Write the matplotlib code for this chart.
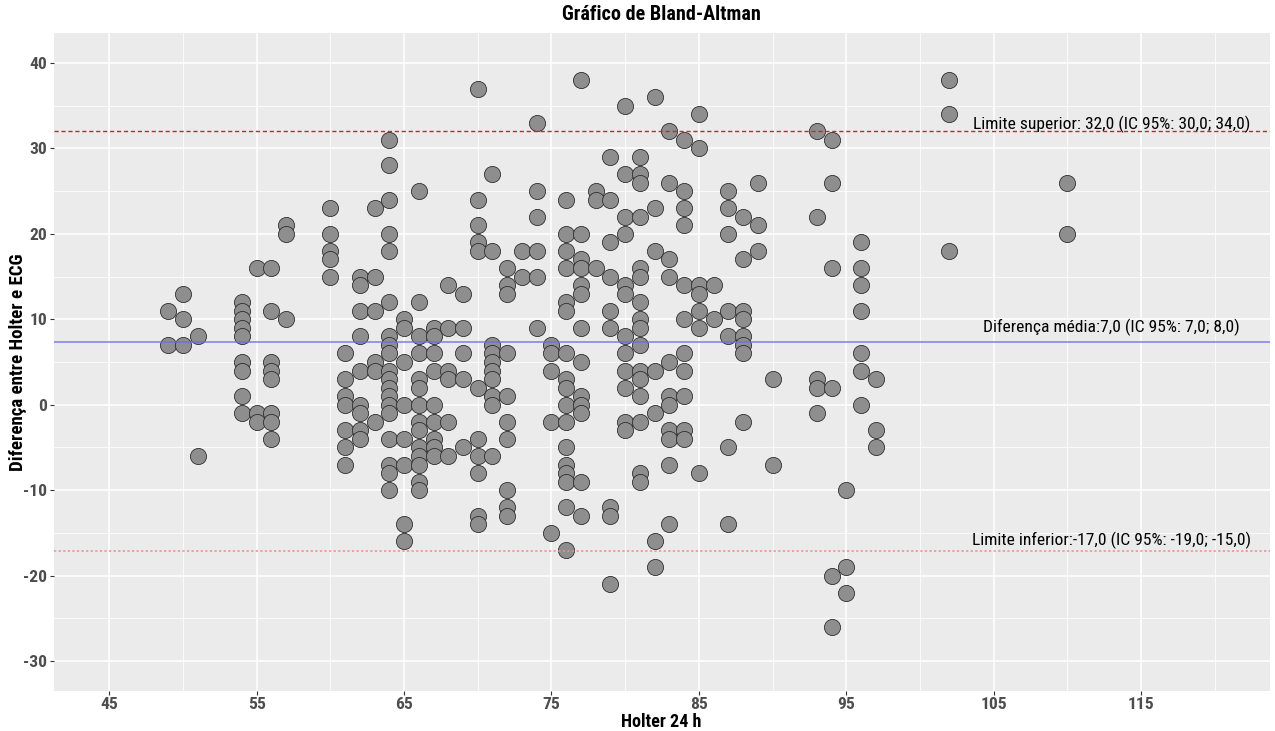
import matplotlib
matplotlib.use("Agg")
import matplotlib.pyplot as plt
from matplotlib import font_manager as fm
from matplotlib.ticker import FixedLocator

# ---------------- data ----------------
holter_24h = (
    [49] * 2 + [50] * 3 + [51] * 2 + [54] * 9 + [55] * 3 + [56] * 8 + [57] * 3 +
    [60] * 5 + [61] * 7 + [62] * 9 + [63] * 6 + [64] * 19 + [65] * 8 + [66] * 14 +
    [67] * 9 + [68] * 6 + [69] * 5 + [70] * 11 + [71] * 10 + [72] * 10 + [73] * 2 +
    [74] * 6 + [75] * 5 + [76] * 17 + [77] * 13 + [78] * 3 + [79] * 9 + [80] * 12 +
    [81] * 16 + [82] * 7 + [83] * 11 + [84] * 11 + [85] * 7 + [86] * 2 + [87] * 7 +
    [88] * 8 + [89] * 3 + [90] * 2 + [93] * 5 + [94] * 6 + [95] * 3 + [96] * 7 +
    [97] * 3 + [102] * 3 + [110] * 2
)
diferenca = (
    [11, 7] + [13, 10, 7] + [8, -6] + [12, 11, 10, 9, 8, 5, 4, 1, -1] + [16, -1, -2] +
    [16, 11, 5, 4, 3, -1, -2, -4] + [21, 20, 10] +
    [23, 20, 18, 17, 15] + [6, 3, 1, 0, -3, -5, -7] + [15, 14, 11, 8, 4, 0, -1, -3, -4] +
    [23, 15, 11, 5, 4, -2] +
    [31, 28, 24, 20, 18, 12, 8, 7, 6, 4, 3, 2, 1, 0, -1, -4, -7, -8, -10] +
    [10, 9, 5, 0, -4, -7, -14, -16] +
    [25, 12, 8, 6, 3, 2, 0, -2, -3, -5, -6, -7, -9, -10] +
    [9, 8, 6, 4, 0, -2, -4, -5, -6] + [14, 9, 4, 3, -2, -6] + [13, 9, 6, 3, -5] +
    [37, 24, 21, 19, 18, 2, -4, -6, -8, -13, -14] +
    [27, 18, 7, 6, 5, 4, 3, 1, 0, -6] +
    [16, 14, 13, 6, 1, -2, -4, -10, -12, -13] + [18, 15] +
    [33, 25, 22, 18, 15, 9] + [7, 6, 4, -2, -15] +
    [24, 20, 18, 16, 12, 11, 6, 3, 2, 0, -2, -5, -7, -8, -9, -12, -17] +
    [38, 20, 17, 16, 14, 13, 9, 5, 1, 0, -1, -9, -13] + [25, 24, 16] +
    [29, 24, 19, 15, 11, 9, -12, -13, -21] +
    [35, 27, 22, 20, 14, 13, 8, 6, 4, 2, -2, -3] +
    [29, 27, 26, 22, 16, 15, 12, 10, 9, 7, 4, 3, 1, -2, -8, -9] +
    [36, 23, 18, 4, -1, -16, -19] +
    [32, 26, 17, 15, 5, 1, 0, -3, -4, -7, -14] +
    [31, 25, 23, 21, 14, 10, 6, 4, 1, -3, -4] +
    [34, 30, 14, 13, 11, 9, -8] + [14, 10] +
    [25, 23, 20, 11, 8, -5, -14] + [22, 17, 11, 10, 8, 7, 6, -2] + [26, 21, 18] +
    [3, -7] + [32, 22, 3, 2, -1] + [31, 26, 16, 2, -20, -26] + [-10, -19, -22] +
    [19, 16, 14, 11, 6, 4, 0] + [3, -3, -5] + [38, 34, 18] + [26, 20]
)

media = 7.35
limite_superior = 32.0
limite_inferior = -17.1

rotulo_superior = "Limite superior: 32,0 (IC 95%: 30,0; 34,0)"
rotulo_media = "Diferença média:7,0 (IC 95%: 7,0; 8,0)"
rotulo_inferior = "Limite inferior:-17,0 (IC 95%: -19,0; -15,0)"

titulo = "Gráfico de Bland-Altman"
rotulo_x = "Holter 24 h"
rotulo_y = "Diferença entre Holter e ECG"

x_ticks = [45, 55, 65, 75, 85, 95, 105, 115]
y_ticks = [-30, -20, -10, 0, 10, 20, 30, 40]

plt.rcParams["axes.unicode_minus"] = False

# ---------------- fonts: prefer a narrow sans face ----------------
def _w(f):
    w = f.weight
    if isinstance(w, str):
        w = fm.weight_dict.get(w, 400)
    return int(w)

def _narrow(f):
    st = f.stretch
    if isinstance(st, str):
        st_n = fm.stretch_dict.get(st, 500)
    else:
        st_n = int(st)
    return ("Narrow" in f.name) or ("Condensed" in f.name) or st_n < 500

def find_faces():
    prefs = ["Liberation Sans Narrow", "Arial Narrow", "Nimbus Sans Narrow",
             "Roboto Condensed", "Open Sans Condensed", "Noto Sans",
             "Open Sans", "DejaVu Sans", "Roboto", "Inter", "Lato"]
    for pref in prefs:
        reg = bold = None
        for f in fm.fontManager.ttflist:
            if f.name != pref or f.style != "normal" or not _narrow(f):
                continue
            w = _w(f)
            if w == 400 and reg is None:
                reg = f.fname
            if w == 700 and bold is None:
                bold = f.fname
        if reg and bold:
            return reg, bold
    reg = fm.findfont(fm.FontProperties(family="Liberation Sans"))
    bold = fm.findfont(fm.FontProperties(family="Liberation Sans", weight="bold"))
    return reg, bold

REG, BOLD = find_faces()

def fp(size, bold=False):
    return fm.FontProperties(fname=BOLD if bold else REG, size=size)

# scale factor so that the annotation has the reference width (~276 px)
_tmp = plt.figure(figsize=(12.75, 7.31), dpi=100)
_t = _tmp.text(0, 0, rotulo_superior, fontproperties=fp(13))
_tmp.canvas.draw()
_wpx = _t.get_window_extent().width
plt.close(_tmp)
k = min(1.0, 276.0 / _wpx)

# ---------------- figure ----------------
fig = plt.figure(figsize=(12.75, 7.31), dpi=100)
ax = fig.add_axes([54 / 1275, 1 - 691 / 731, (1270 - 54) / 1275, (691 - 33) / 731])
ax.set_facecolor("#EBEBEB")
for s in ax.spines.values():
    s.set_visible(False)

ax.set_xlim(41.25, 123.75)
ax.set_ylim(-33.5, 43.5)

ax.xaxis.set_major_locator(FixedLocator(x_ticks))
ax.yaxis.set_major_locator(FixedLocator(y_ticks))
ax.xaxis.set_minor_locator(FixedLocator([50, 60, 70, 80, 90, 100, 110, 120]))
ax.yaxis.set_minor_locator(FixedLocator([-25, -15, -5, 5, 15, 25, 35]))
ax.grid(which="major", color="white", linewidth=1.1)
ax.grid(which="minor", color="white", linewidth=0.55)
ax.set_axisbelow(True)
ax.tick_params(which="major", length=3, width=0.8, color="#333333",
               labelcolor="#4D4D4D")
ax.tick_params(axis="x", which="major", pad=1.5)
ax.tick_params(axis="y", which="major", pad=2)
ax.tick_params(which="minor", length=0)
for lab in ax.get_xticklabels() + ax.get_yticklabels():
    lab.set_fontproperties(fp(13.0 * k, bold=True))

ax.scatter(holter_24h, diferenca, s=135, facecolor="#8E8E8E",
           edgecolor="#2E2E2E", linewidth=0.6, zorder=3)

ax.axhline(media, color="#6A6AF0", linewidth=1.1, alpha=0.85, zorder=4)
ax.axhline(limite_superior, color="#C0282D", linewidth=1.0,
           linestyle=(0, (3, 2)), zorder=4)
ax.axhline(limite_inferior, color="#F08C8C", linewidth=1.1,
           linestyle=(0, (1.5, 1.5)), zorder=4)

for yv, txt in [(32.75, rotulo_superior), (9.0, rotulo_media), (-15.9, rotulo_inferior)]:
    ax.text(113.0, yv, txt, ha="center", va="center", color="black",
            fontproperties=fp(13 * k), zorder=5)

fig.text(661 / 1275, 1 - 15 / 731, titulo, ha="center", va="center",
         fontproperties=fp(15 * k, bold=True))
fig.text(661 / 1275, 1 - 722 / 731, rotulo_x, ha="center", va="center",
         fontproperties=fp(13.5 * k, bold=True))
fig.text(18 / 1275, 1 - 362 / 731, rotulo_y, ha="center", va="center",
         rotation=90, fontproperties=fp(14 * k, bold=True))

fig.savefig("out.png", dpi=100)
